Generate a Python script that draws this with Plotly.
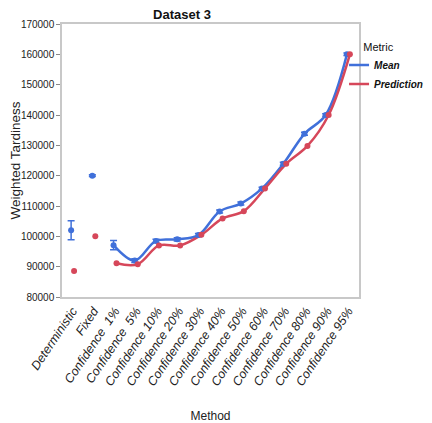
import plotly.graph_objects as go

categories = ["Deterministic", "Fixed", "Confidence\u00a0\u00a01%", "Confidence\u00a0\u00a05%", "Confidence 10%",
              "Confidence 20%", "Confidence 30%", "Confidence 40%", "Confidence 50%",
              "Confidence 60%", "Confidence 70%", "Confidence 80%", "Confidence 90%",
              "Confidence 95%"]
mean_vals = [102000, 120000, 97100, 92000, 98500, 99000, 100400, 108200, 110800,
             115800, 123900, 133800, 140000, 160000]
mean_err = [3100, 300, 1500, 600, 500, 500, 500, 500, 500, 400, 500, 500, 400, 400]
pred_vals = [88600, 100000, 91100, 90800, 97000, 97000, 100500, 105900, 108300,
             115800, 123900, 129800, 140000, 160000]

blue = "#4070DA"
red = "#D6475A"
font_fam = "Liberation Sans, Arial, sans-serif"
off = 0.07
idx = list(range(len(categories)))
xb = [i - off for i in idx]
xr = [i + off for i in idx]

fig = go.Figure()
fig.add_trace(go.Scatter(x=xb[2:], y=mean_vals[2:], mode="lines", line=dict(color=blue, width=2.5, shape="spline"),
                         name="<b><i>Mean</i></b>", legendgroup="m"))
fig.add_trace(go.Scatter(x=xr[2:], y=pred_vals[2:], mode="lines", line=dict(color=red, width=2.5, shape="spline"),
                         name="<b><i>Prediction</i></b>", legendgroup="p"))
fig.add_trace(go.Scatter(x=xb, y=mean_vals, mode="markers", marker=dict(color=blue, size=6),
                         error_y=dict(type="data", array=mean_err, color=blue, thickness=1.5, width=3.5),
                         showlegend=False, legendgroup="m"))
fig.add_trace(go.Scatter(x=xr, y=pred_vals, mode="markers", marker=dict(color=red, size=6),
                         showlegend=False, legendgroup="p"))

# page has an 8px body margin; size the figure so the plot area lands at x 62-359, y 24-297
fig.update_layout(
    width=424, height=415,
    margin=dict(l=54, r=73, t=16, b=126, autoexpand=False),
    paper_bgcolor="white", plot_bgcolor="white",
    font=dict(family=font_fam, size=12, color="#222"),
    title=dict(text="<b>Dataset 3</b>", x=0.404, xref="paper", xanchor="center",
               y=0.984, yanchor="middle", font=dict(size=13, color="#111")),
    legend=dict(title=dict(text="\u00a0\u00a0\u00a0\u00a0Metric", font=dict(size=11)), x=0.9665, y=0.955,
                xanchor="left", yanchor="top", font=dict(size=10, color="#111"),
                bgcolor="rgba(0,0,0,0)", tracegroupgap=0, itemwidth=30, indentation=-15),
    xaxis=dict(range=[-0.5, len(categories) - 0.5], tickmode="array", tickvals=idx,
               ticktext=["<i>%s</i>" % c for c in categories], tickangle=-56,
               showgrid=False, zeroline=False, showline=True, linecolor="#c8c8c8", linewidth=1.5,
               mirror=True, ticks="", tickfont=dict(size=12.5, color="#222"), automargin=False,
               title=dict(text="Method", font=dict(size=12), standoff=25)),
    yaxis=dict(range=[80000, 170000], dtick=10000, tickformat="d", automargin=False,
               showgrid=False, zeroline=False, showline=True, linecolor="#c8c8c8", linewidth=1.5,
               mirror=True, ticks="outside", ticklen=4, tickcolor="#888",
               tickfont=dict(size=10, color="#222"),
               title=dict(text="Weighted Tardiness", font=dict(size=13.5), standoff=13)),
)

fig.write_html("out.html")
